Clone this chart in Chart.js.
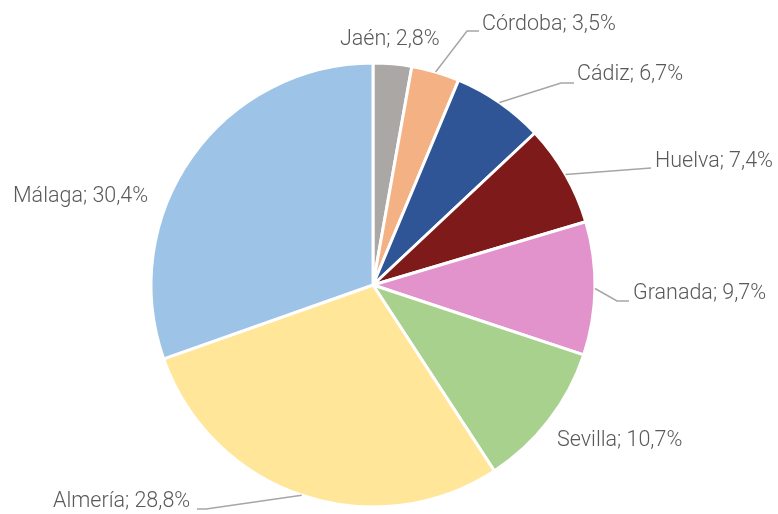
<!DOCTYPE html>
<html lang="es">
<head>
  <meta charset="UTF-8">
  <title>Distribución por provincias</title>
  <script src="https://cdn.jsdelivr.net/npm/chart.js"></script>
  <style>
    html, body {
      margin: 0;
      padding: 0;
      background: #ffffff;
    }
    #wrap {
      width: 778px;
      height: 514px;
    }
  </style>
</head>
<body>
  <div id="wrap"><canvas id="pieChart" width="778" height="514"></canvas></div>

  <script>
    // Data (clockwise from 12 o'clock)
    const provincias = ['Jaén', 'Córdoba', 'Cádiz', 'Huelva', 'Granada', 'Sevilla', 'Almería', 'Málaga'];
    const porcentajes = [2.8, 3.5, 6.7, 7.4, 9.7, 10.7, 28.8, 30.4];
    const colores = ['#ABA7A4', '#F4B183', '#2F5597', '#7F1A1A', '#E393CB', '#A9D18E', '#FFE699', '#9DC3E6'];

    // Label placement: text left/middle, optional leader line (elbow, end)
    const labelLayout = [
      { x: 340, y: 40 },
      { x: 482, y: 25, elbow: [467, 31], end: [479, 31] },
      { x: 577, y: 75, elbow: [561, 83], end: [574, 83] },
      { x: 655, y: 162, elbow: [651, 168], end: [651, 168] },
      { x: 633, y: 294, elbow: [617, 301], end: [629, 301] },
      { x: 557, y: 441 },
      { x: 53, y: 502, elbow: [206, 509], end: [197, 509] },
      { x: 13, y: 197 }
    ];

    const fmt = v => v.toFixed(1).replace('.', ',') + '%';

    const pieLabels = {
      id: 'pieLabels',
      afterDatasetsDraw(chart) {
        const ctx = chart.ctx;
        const arcs = chart.getDatasetMeta(0).data;
        ctx.save();
        ctx.strokeStyle = '#A6A6A6';
        ctx.lineWidth = 1.5;
        ctx.fillStyle = '#595959';
        ctx.font = '300 21.5px Roboto, "Liberation Sans", sans-serif';
        ctx.textBaseline = 'middle';
        ctx.textAlign = 'left';
        arcs.forEach((arc, i) => {
          const p = arc.getProps(['x', 'y', 'startAngle', 'endAngle', 'outerRadius'], true);
          const mid = (p.startAngle + p.endAngle) / 2;
          const lay = labelLayout[i];
          if (lay.elbow) {
            const ax = p.x + Math.cos(mid) * p.outerRadius;
            const ay = p.y + Math.sin(mid) * p.outerRadius;
            ctx.beginPath();
            ctx.moveTo(ax, ay);
            ctx.lineTo(lay.elbow[0], lay.elbow[1]);
            ctx.lineTo(lay.end[0], lay.end[1]);
            ctx.stroke();
          }
          ctx.fillText(provincias[i] + '; ' + fmt(porcentajes[i]), lay.x, lay.y);
        });
        ctx.restore();
      }
    };

    new Chart(document.getElementById('pieChart'), {
      type: 'pie',
      data: {
        labels: provincias,
        datasets: [{
          data: porcentajes,
          backgroundColor: colores,
          borderColor: '#ffffff',
          borderWidth: 3
        }]
      },
      options: {
        responsive: false,
        animation: false,
        radius: 222,
        layout: { padding: { left: 0, right: 32, top: 56, bottom: 0 } },
        plugins: {
          legend: { display: false },
          tooltip: { enabled: false }
        }
      },
      plugins: [pieLabels]
    });
  </script>
</body>
</html>
